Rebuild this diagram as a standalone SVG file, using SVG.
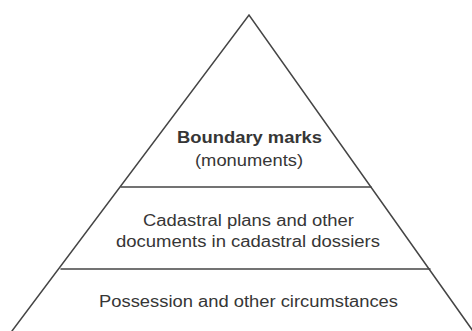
<svg xmlns="http://www.w3.org/2000/svg" width="472" height="331" viewBox="0 0 472 331">
<style>
.edge{stroke:#454545;stroke-width:1.5;fill:none;stroke-linecap:round}
.t{font-family:"Liberation Sans",Arial,sans-serif;font-size:16px;fill:#363636;text-anchor:middle}
.b{font-weight:bold}
</style>
<rect width="472" height="331" fill="#fff"/>
<g id="connectors">
<path class="edge" d="M12,331 L249,15 L473,331"/>
<line class="edge" x1="121" y1="187" x2="371" y2="187"/>
<line class="edge" x1="61" y1="269" x2="430" y2="269"/>
</g>
<g id="top">
<text class="t b" x="249.5" y="143" textLength="145" lengthAdjust="spacingAndGlyphs">Boundary marks</text>
<text class="t" x="249" y="166" textLength="108" lengthAdjust="spacingAndGlyphs">(monuments)</text>
</g>
<g id="middle">
<text class="t" x="248.5" y="226" textLength="211" lengthAdjust="spacingAndGlyphs">Cadastral plans and other</text>
<text class="t" x="248" y="247" textLength="264" lengthAdjust="spacingAndGlyphs">documents in cadastral dossiers</text>
</g>
<g id="bottom">
<text class="t" x="248.5" y="307" textLength="299" lengthAdjust="spacingAndGlyphs">Possession and other circumstances</text>
</g>
</svg>
